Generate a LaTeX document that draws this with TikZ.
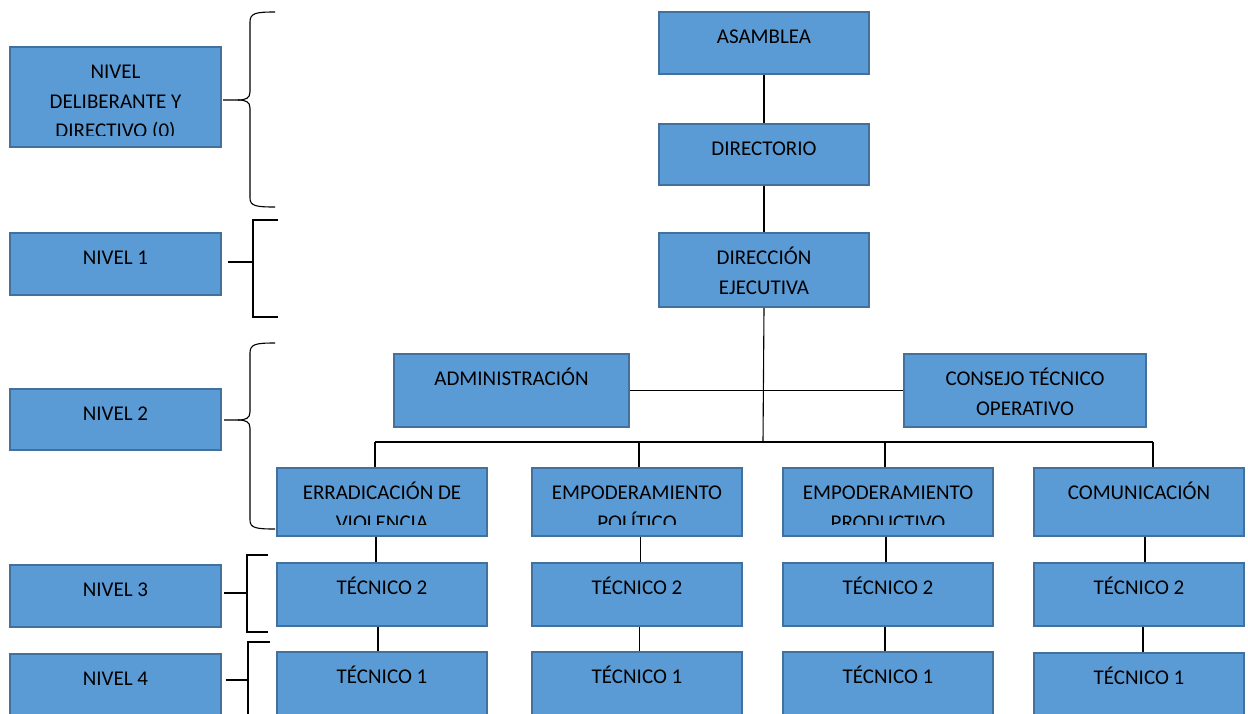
\documentclass[tikz,border=0pt]{standalone}
\usepackage{fontspec}
\setmainfont{Carlito}
\definecolor{boxfill}{HTML}{5B9BD5}
\definecolor{boxline}{HTML}{41719C}
\tikzset{
 orgbox/.style={draw=boxline, fill=boxfill, line width=2pt, rectangle, inner sep=0pt, anchor=north west},
 conn/.style={draw=black, line width=1.1pt},
 bracepath/.style={draw=black, line width=1.1pt},
 lbl/.style={anchor=base, inner sep=0pt, font=\fontsize{21}{29.5}\selectfont, text=black},
}
\newcommand\orgnode[6]{%
 \node[orgbox, minimum width=#4pt, minimum height=#5pt] (#1) at (#2,#3) {};
 \begin{scope}
 \clip (#1.north west) rectangle ([yshift=13pt]#1.south east);
 \node[lbl] (#1t) at ([yshift=-32.5pt]#1.north) {\parbox[t]{#4pt}{\centering #6}};
 \end{scope}}
\begin{document}
\begin{tikzpicture}[x=1pt,y=-1pt]
\useasboundingbox (0,0) rectangle (1248,713);
% left level boxes
\orgnode{l0}{9}{46}{211}{100}{NIVEL\\DELIBERANTE Y\\DIRECTIVO (0)}
\orgnode{l1}{9}{232}{211}{62}{NIVEL 1}
\orgnode{l2}{9}{388}{211}{61}{NIVEL 2}
\orgnode{l3}{9}{564}{211}{62}{NIVEL 3}
\orgnode{l4}{9}{653}{211}{64}{NIVEL 4}
% central column
\orgnode{asam}{658}{11}{210}{62}{ASAMBLEA}
\orgnode{dir}{658}{123}{210}{61}{DIRECTORIO}
\orgnode{de}{658}{232}{210}{74}{DIRECCIÓN\\EJECUTIVA}
\orgnode{adm}{393}{353}{235}{73}{ADMINISTRACIÓN}
\orgnode{cons}{903}{353}{242}{73}{CONSEJO TÉCNICO\\OPERATIVO}
% row 1
\orgnode{e1}{276}{467}{210}{68}{ERRADICACIÓN DE\\VIOLENCIA}
\orgnode{e2}{531}{467}{210}{68}{EMPODERAMIENTO\\POLÍTICO}
\orgnode{e3}{782}{467}{210}{68}{EMPODERAMIENTO\\PRODUCTIVO}
\orgnode{e4}{1033}{467}{210}{68}{COMUNICACIÓN}
% row 2
\orgnode{ta1}{276}{562}{210}{63}{TÉCNICO 2}
\orgnode{ta2}{531}{562}{210}{63}{TÉCNICO 2}
\orgnode{ta3}{782}{562}{210}{63}{TÉCNICO 2}
\orgnode{ta4}{1033}{562}{210}{63}{TÉCNICO 2}
% row 3
\orgnode{tb1}{276}{651}{210}{66}{TÉCNICO 1}
\orgnode{tb2}{531}{651}{210}{66}{TÉCNICO 1}
\orgnode{tb3}{782}{651}{210}{66}{TÉCNICO 1}
\orgnode{tb4}{1033}{652}{210}{66}{TÉCNICO 1}
% connectors
\draw[conn] (asam.south) -- (dir.north);
\draw[conn] (dir.south) -- (de.north);
\coordinate (busc) at (763,442);
\coordinate (b1) at (375,442);
\coordinate (b2) at (639,442);
\coordinate (b3) at (885,442);
\coordinate (b4) at (1153,442);
\draw[conn] (de.south) -- (busc);
\draw[conn] (adm.east) -- (cons.west);
\draw[conn] (b1) -- (b4);
\draw[conn] (b1) -- (b1 |- e1.north);
\draw[conn] (b2) -- (b2 |- e2.north);
\draw[conn] (b3) -- (b3 |- e3.north);
\draw[conn] (b4) -- (b4 |- e4.north);
\draw[conn] ([xshift=-6pt]e1.south) -- ([xshift=-6pt]ta1.north);
\draw[conn] ([xshift=3.5pt]e2.south) -- ([xshift=3.5pt]ta2.north);
\draw[conn] ([xshift=-2pt]e3.south) -- ([xshift=-2pt]ta3.north);
\draw[conn] ([xshift=6pt]e4.south) -- ([xshift=6pt]ta4.north);
\draw[conn] ([xshift=-4pt]ta1.south) -- ([xshift=-4pt]tb1.north);
\draw[conn] ([xshift=2.5pt]ta2.south) -- ([xshift=2.5pt]tb2.north);
\draw[conn] ([xshift=-3pt]ta3.south) -- ([xshift=-3pt]tb3.north);
\draw[conn] ([xshift=4pt]ta4.south) -- ([xshift=4pt]tb4.north);
% braces and brackets
\draw[bracepath] (275,12) .. controls (256,12) and (250,13) .. (250,22) -- (250,92)
  .. controls (250,98) and (246,100) .. (238,100) -- (223,100);
\draw[bracepath] (238,100) .. controls (246,100) and (250,102) .. (250,108) -- (250,198)
  .. controls (250,206) and (256,207) .. (275,207);
\draw[bracepath] (278,220) -- (253,220) -- (253,317) -- (278,317);
\draw[bracepath] (228,262) -- (253,262);
\draw[bracepath] (275,343) .. controls (256,343) and (250,344) .. (250,353) -- (250,412)
  .. controls (250,418) and (246,420) .. (238,420) -- (224,420);
\draw[bracepath] (238,420) .. controls (246,420) and (250,422) .. (250,428) -- (250,520)
  .. controls (250,528) and (256,529) .. (275,529);
\draw[bracepath] (268,555) -- (247,555) -- (247,632) -- (268,632);
\draw[bracepath] (224,593) -- (247,593);
\draw[bracepath] (270,642) -- (248,642) -- (248,720);
\draw[bracepath] (226,680) -- (248,680);
\end{tikzpicture}
\end{document}
